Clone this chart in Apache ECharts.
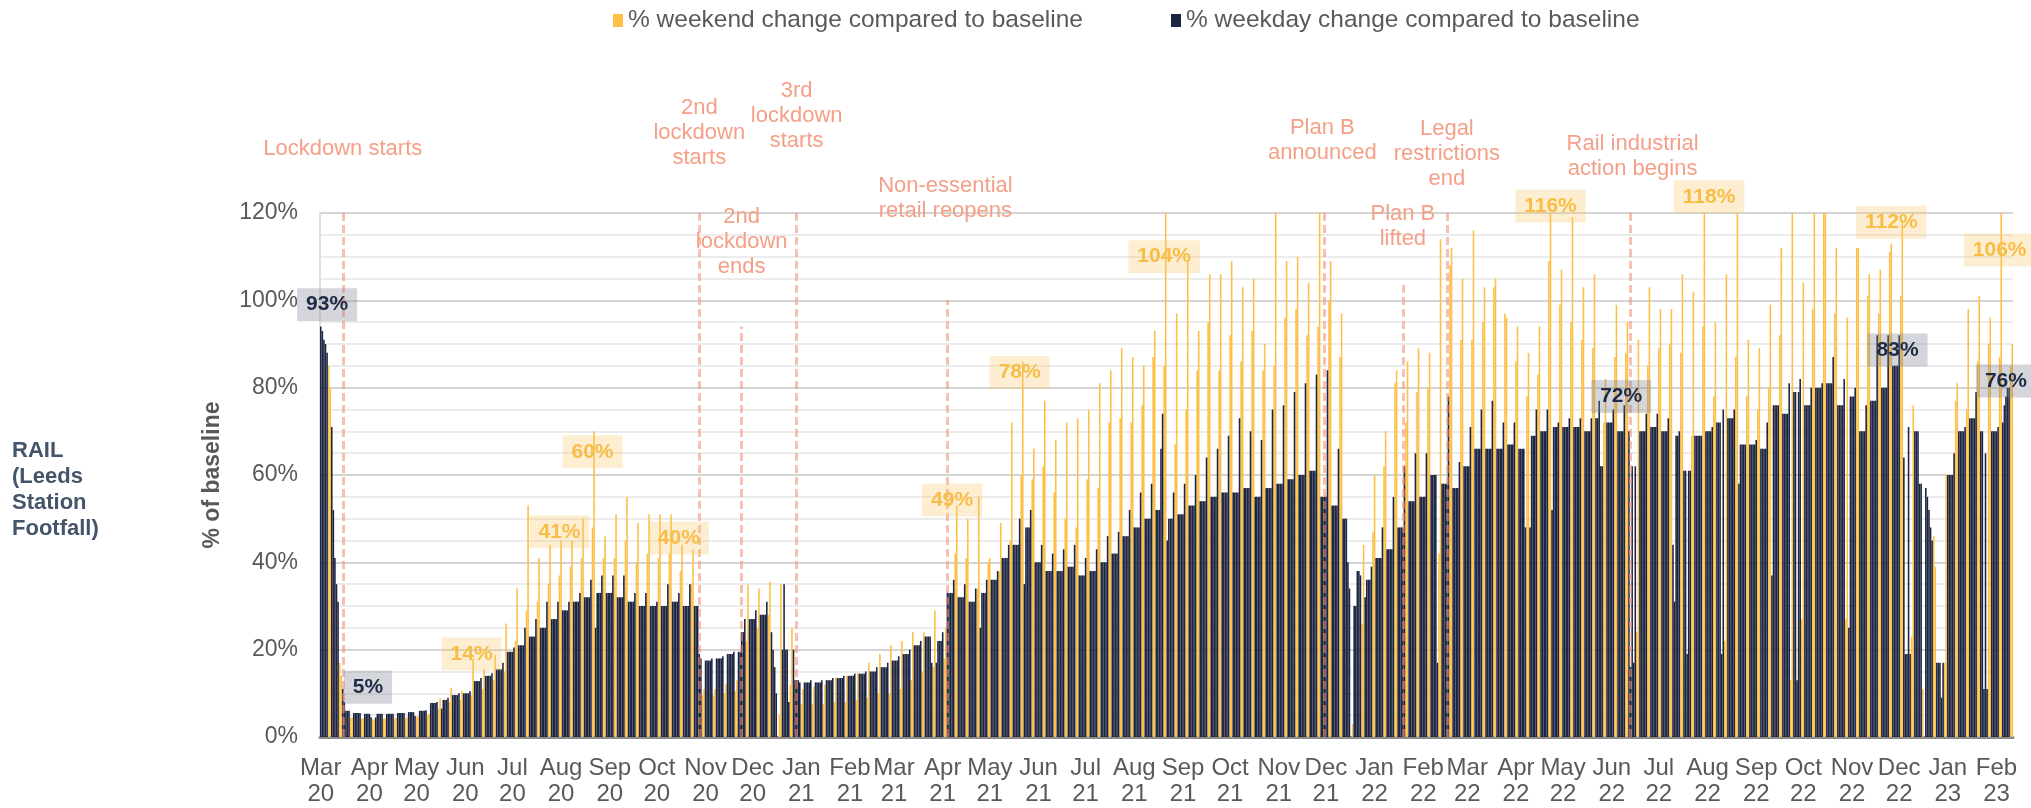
<!DOCTYPE html>
<html>
<head>
<meta charset="utf-8">
<title>Leeds Station footfall</title>
<script src="https://cdn.jsdelivr.net/npm/echarts@6/dist/echarts.min.js"></script>
<style>
html, body { margin: 0; padding: 0; background: #fff; }
#container1 { width: 2031px; height: 808px; }
</style>
</head>
<body>
<div id="container1"></div>
<script>
var myChart = echarts.init(document.getElementById('container1'));

// series starts on Monday 9 March 2020, one entry per week below
var startDate = [2020, 2, 9];
var monthNames = ['Jan', 'Feb', 'Mar', 'Apr', 'May', 'Jun', 'Jul', 'Aug', 'Sep', 'Oct', 'Nov', 'Dec'];

// % of baseline, Mon-Thu level of each week
var monThuVals = [
  93, 45, 6, 5.5, 5.3, 5.3, 5.3, 5.5, 5.7, 6,
  7.8, 8.5, 9.6, 10, 12.8, 14, 15.5, 19.5, 21, 23,
  25, 27, 29, 31, 32, 33, 33, 32, 31, 30,
  30, 30, 31, 30, 30, 17.5, 18, 19, 24, 27,
  28, 25, 20, 13, 12.5, 12.5, 13, 13.5, 14, 14.5,
  15, 16, 17.5, 19, 21, 23, 22, 33, 32, 31,
  33, 36, 41, 44, 48, 40, 38, 38, 39, 37,
  38, 40, 42, 46, 48, 50, 52, 50, 51, 53,
  54, 55, 56, 56, 57, 55, 57, 58, 59, 60,
  61, 55, 53, 50, 38, 36, 41, 43, 48, 54,
  55, 60, 58, 57, 62, 66, 66, 66, 67, 66,
  69, 70, 71, 71, 71, 70, 73, 72, 70, 70,
  70, 71, 70, 69, 61, 69, 70, 72, 73, 67,
  67, 66, 76, 74, 79, 76, 80, 81, 76, 78,
  70, 77, 80, 85, 64, 70, 55, 17, 60, 70,
  73, 70, 70, 72
];
// Friday of each week
var friVals = [
  88, 31, 6, 5.5, 4.5, 5.3, 5.3, 5.5, 4.8, 6.1,
  8, 9, 10, 10.5, 13.5, 14.6, 17, 20.5, 25, 27,
  31, 31, 31, 33, 36, 37, 37, 37, 33, 33,
  31, 35, 33, 35, 18, 18, 18.5, 19.5, 27, 29,
  31, 0, 8, 12.5, 13, 13, 13.5, 14, 14.5, 15,
  16, 17, 18.5, 20, 22, 17, 24, 36, 35, 34,
  36, 38, 44, 50, 52, 44, 42, 43, 44, 41,
  43, 46, 47, 52, 56, 58, 74, 56, 58, 60,
  64, 66, 69, 73, 70, 68, 75, 76, 79, 81,
  83, 84, 66, 34, 37, 39, 48, 55, 62, 65,
  65, 17, 78, 63, 71, 75, 77, 72, 72, 48,
  75, 75, 72, 73, 73, 73, 62, 75, 76, 62,
  74, 74, 73, 70, 61, 69, 71, 75, 75, 67,
  68, 72, 76, 81, 82, 80, 81, 87, 82, 80,
  76, 92, 92, 92, 19, 58, 45, 17, 65, 71,
  79, 11, 71, 80
];
// Saturday of each week
var satVals = [
  85, 17, 4.5, 4.3, 4, 4.2, 4.3, 4.4, 4.6, 5,
  6.5, 8, 8.5, 9.5, 11, 13, 15, 22, 29, 31,
  35, 37, 39, 41, 48, 41, 41, 45, 40, 42,
  41, 42, 38, 35, 9.5, 9.5, 10, 10.5, 22, 25,
  28, 5, 12, 7.5, 7.5, 7.5, 8, 8, 8.5, 9,
  10, 10, 11, 13, 15, 16, 18, 42, 41, 34,
  40, 38, 45, 60, 59, 62, 56, 50, 48, 59,
  57, 72, 73, 72, 76, 87, 85, 67, 75, 84,
  95, 84, 92, 86, 93, 84, 85, 96, 98, 92,
  94, 100, 87, 0, 26, 47, 62, 81, 72, 79,
  80, 42, 108, 91, 91, 95, 103, 97, 86, 78,
  83, 109, 99, 95, 91, 89, 72, 87, 88, 24,
  85, 89, 90, 88, 69, 94, 78, 22, 87, 78,
  75, 80, 92, 13, 27, 98, 125, 97, 27, 112,
  101, 97, 111, 101, 23, 11, 46, 17, 77, 75,
  86, 90, 87, 85
];
// Sunday of each week
var sunVals = [
  80, 14, 4.5, 4.3, 4, 4.3, 4.4, 4.5, 4.8, 5.3,
  8.8, 11.3, 10.6, 18, 15.6, 18.8, 26, 34, 53, 41,
  44, 45, 45, 50, 70, 46, 51, 55, 49, 51,
  51, 51, 44, 43, 11, 11, 12, 13, 35, 34,
  35.5, 35, 25, 11, 11.5, 12, 13.6, 14, 14.6, 17,
  19, 21, 22, 24, 24, 29, 25, 53, 50, 55,
  41, 49, 72, 86, 66, 77, 68, 72, 73, 75,
  81, 84, 89, 87, 85, 93, 128, 97, 109, 93,
  106, 106, 109, 103, 105, 90, 128, 109, 110, 104,
  128, 109, 97, 3, 44, 60, 70, 84, 86, 89,
  88, 114, 112, 105, 116, 103, 105, 96, 94, 88,
  94, 128, 107, 119, 103, 106, 82, 99, 95, 91,
  103, 98, 98, 106, 102, 125, 95, 106, 125, 91,
  89, 99, 112, 125, 104, 125, 125, 112, 96, 112,
  106, 107, 113, 118, 76, 0, 39, 60, 81, 98,
  101, 96, 125, 90
];
// single days that stand apart from their week (holidays, strikes, storms)
var specialDays = [
  ['2020-03-09', 94], ['2020-03-11', 91], ['2020-03-12', 90],
  ['2020-03-16', 71], ['2020-03-17', 52], ['2020-03-18', 41], ['2020-03-19', 35],
  ['2020-03-23', 11], ['2020-03-24', 8],
  ['2020-04-13', 4.5], ['2020-05-25', 6.5], ['2020-08-31', 25],
  ['2020-11-05', 19], ['2020-11-30', 19.5], ['2020-12-01', 19.5],
  ['2020-12-21', 24], ['2020-12-22', 20], ['2020-12-23', 16], ['2020-12-24', 10],
  ['2020-12-29', 35],
  ['2021-01-04', 20], ['2021-04-05', 17], ['2021-05-03', 25], ['2021-05-31', 35],
  ['2021-08-26', 66], ['2021-08-30', 45],
  ['2021-12-23', 40], ['2021-12-27', 30], ['2021-12-28', 30],
  ['2022-01-03', 32], ['2022-04-18', 48], ['2022-05-02', 52],
  ['2022-06-01', 77], ['2022-06-02', 62],
  ['2022-06-21', 16], ['2022-06-22', 62], ['2022-06-23', 17],
  ['2022-07-18', 44], ['2022-07-19', 31], ['2022-07-27', 19],
  ['2022-08-18', 19], ['2022-08-29', 58], ['2022-09-19', 37],
  ['2022-10-05', 13], ['2022-11-07', 25],
  ['2022-12-13', 19], ['2022-12-14', 19], ['2022-12-15', 71], ['2022-12-22', 58],
  ['2022-12-26', 57], ['2022-12-27', 55], ['2022-12-28', 52], ['2022-12-29', 48],
  ['2023-01-05', 9], ['2023-02-01', 11], ['2023-02-02', 65],
  ['2023-02-14', 76], ['2023-02-15', 78], ['2023-02-16', 80]
];

var eventNames = ['Lockdown starts', '2nd\nlockdown\nstarts', '2nd\nlockdown\nends', '3rd\nlockdown\nstarts',
  'Non-essential\nretail reopens', 'Plan B\nannounced', 'Plan B\nlifted', 'Legal\nrestrictions\nend',
  'Rail industrial\naction begins'];
var eventDates = ['2020-03-23', '2020-11-05', '2020-12-02', '2021-01-06', '2021-04-12',
  '2021-12-08', '2022-01-27', '2022-02-24', '2022-06-21'];
var eventTops = [120, 120, 94, 120, 100, 120, 104, 120, 120];

var calloutTexts = ['93%', '5%', '14%', '41%', '60%', '40%', '49%', '78%', '104%', '116%', '118%',
  '72%', '112%', '83%', '106%', '76%'];
var calloutKinds = ['weekday', 'weekday', 'weekend', 'weekend', 'weekend', 'weekend', 'weekend', 'weekend',
  'weekend', 'weekend', 'weekend', 'weekday', 'weekend', 'weekday', 'weekend', 'weekday'];

initChart();

function initChart() {
  var special = {};
  specialDays.forEach(function (s) { special[s[0]] = s[1]; });

  var days = [], weekendData = [], weekdayData = [];
  for (var w = 0; w < monThuVals.length; w++) {
    for (var k = 0; k < 7; k++) {
      var dt = new Date(Date.UTC(startDate[0], startDate[1], startDate[2] + w * 7 + k));
      var key = dt.toISOString().slice(0, 10);
      var v = k < 4 ? monThuVals[w] : (k == 4 ? friVals[w] : (k == 5 ? satVals[w] : sunVals[w]));
      if (special[key] !== undefined) v = special[key];
      days.push(key);
      weekdayData.push(k < 5 ? v : '-');
      weekendData.push(k >= 5 ? v : '-');
    }
  }

  var isTickDay = function (idx, val) { return val.slice(8) === '09'; };
  var font = 'Liberation Sans';

  var lines = [];
  for (var i = 0; i < eventDates.length; i++) {
    lines.push([{ coord: [eventDates[i], 0] }, { coord: [eventDates[i], eventTops[i]] }]);
  }

  var option = {
    animation: false,
    backgroundColor: '#fff',
    grid: { left: 320, right: 18, top: 213, bottom: 71, containLabel: false, outerBoundsMode: 'none' },
    legend: [{
      data: ['% weekend change compared to baseline'],
      left: 608, top: 3, icon: 'rect', itemWidth: 10, itemHeight: 13,
      textStyle: { fontFamily: font, fontSize: 24.5, color: '#595959' }
    }, {
      data: ['% weekday change compared to baseline'],
      left: 1166, top: 3, icon: 'rect', itemWidth: 10, itemHeight: 13,
      textStyle: { fontFamily: font, fontSize: 24.5, color: '#595959' }
    }],
    xAxis: {
      type: 'category',
      data: days,
      axisLine: { lineStyle: { color: '#8c8c8c', width: 3 } },
      axisTick: { interval: isTickDay, alignWithLabel: true, length: 8, lineStyle: { color: '#8c8c8c', width: 2 } },
      axisLabel: {
        interval: isTickDay,
        hideOverlap: false,
        formatter: function (val) { return monthNames[+val.slice(5, 7) - 1] + '\n' + val.slice(2, 4); },
        fontFamily: font, fontSize: 24, color: '#595959', lineHeight: 26, margin: 18
      },
      splitLine: { show: false }
    },
    yAxis: {
      type: 'value', min: 0, max: 120, interval: 20,
      name: '% of baseline', nameLocation: 'middle', nameGap: 96, nameRotate: 90,
      nameTextStyle: { fontFamily: font, fontWeight: 'bold', fontSize: 23, color: '#595959' },
      axisLine: { show: true, lineStyle: { color: '#e4e0d6', width: 2 } },
      axisTick: { show: false },
      axisLabel: { formatter: '{value}%', fontFamily: font, fontSize: 23, color: '#595959', margin: 22 },
      splitLine: { lineStyle: { color: '#d4d4d4', width: 2 } },
      minorTick: { show: false, splitNumber: 4 },
      minorSplitLine: { show: true, lineStyle: { color: '#ececec', width: 2 } }
    },
    series: [{
      name: '% weekend change compared to baseline',
      type: 'bar',
      data: weekendData,
      barGap: '-100%',
      barCategoryGap: '0%',
      itemStyle: { color: '#FDBF45' }
    }, {
      name: '% weekday change compared to baseline',
      type: 'bar',
      data: weekdayData,
      barGap: '-100%',
      barCategoryGap: '0%',
      itemStyle: { color: '#1C2541' },
      markLine: {
        silent: true,
        symbol: ['none', 'none'],
        label: { show: false },
        lineStyle: { type: [8, 4], color: 'rgba(240,140,115,0.55)', width: 3 },
        data: lines
      }
    }]
  };
  myChart.setOption(option);

  // annotation layout (pixels relative to the anchor)
  var eventLayout = [[0, 52], [0, 43], [0, 47], [0, 60], [-2, 77], [-2, 48], [0, 31], [0, 22], [2, 32]];
  var calloutPos = [
    ['2020-03-13', 99], ['2020-04-08', 11.4], ['2020-06-13', 19], ['2020-08-08', 47], ['2020-08-29', 65.3],
    ['2020-10-23', 45.6], ['2021-04-15', 54.3], ['2021-05-28', 83.5], ['2021-08-28', 110], ['2022-05-01', 121.6],
    ['2022-08-10', 123.7], ['2022-06-15', 78], ['2022-12-04', 117.9], ['2022-12-08', 88.6], ['2023-02-11', 111.5],
    ['2023-02-15', 81.5]
  ];

  var gfx = [{
    type: 'text', left: 12, top: 438, z: 100,
    style: { text: 'RAIL\n(Leeds\nStation\nFootfall)', font: 'bold 22px "Liberation Sans"', fill: '#44546A', lineHeight: 26 }
  }];
  eventNames.forEach(function (t, i) {
    var p = myChart.convertToPixel({ seriesIndex: 1 }, [eventDates[i], eventTops[i]]);
    gfx.push({
      type: 'text', x: p[0] + eventLayout[i][0], y: p[1] - eventLayout[i][1], z: 100,
      style: {
        text: t, font: '22px "Liberation Sans"', fill: '#F4A088', lineHeight: 25,
        align: 'center', textAlign: 'center', verticalAlign: 'bottom', textVerticalAlign: 'bottom'
      }
    });
  });
  calloutTexts.forEach(function (t, i) {
    var p = myChart.convertToPixel({ seriesIndex: 1 }, calloutPos[i]);
    var wk = calloutKinds[i] == 'weekend';
    gfx.push({
      type: 'text', x: p[0], y: p[1], z: 100,
      style: {
        text: t, font: 'bold 21px "Liberation Sans"',
        fill: wk ? '#F8BD45' : '#1F2A44',
        backgroundColor: wk ? 'rgba(249,198,107,0.3)' : 'rgba(122,128,147,0.32)',
        padding: [6, 9],
        align: 'center', textAlign: 'center', verticalAlign: 'middle', textVerticalAlign: 'middle'
      }
    });
  });
  myChart.setOption({ graphic: gfx });
}
</script>
</body>
</html>
